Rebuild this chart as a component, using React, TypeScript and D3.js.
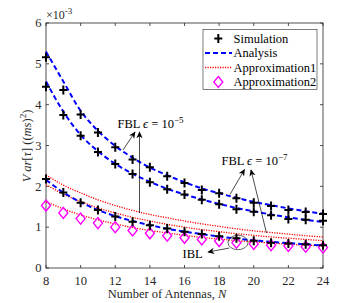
import React from "react";
import * as d3 from "d3";

const antennas = [8, 9, 10, 11, 12, 13, 14, 15, 16, 17, 18, 19, 20, 21, 22, 23, 24];

// values in units of 1e-3
const simFBL7 = [5.16, 4.36, 3.76, 3.32, 2.96, 2.66, 2.47, 2.25, 2.08, 1.91, 1.83, 1.71, 1.6, 1.52, 1.42, 1.37, 1.32];
const simFBL5 = [4.44, 3.75, 3.24, 2.84, 2.55, 2.3, 2.1, 1.93, 1.8, 1.67, 1.56, 1.44, 1.38, 1.29, 1.2, 1.18, 1.16];
const simIBL = [2.18, 1.85, 1.6, 1.42, 1.26, 1.13, 1.05, 0.97, 0.89, 0.83, 0.78, 0.73, 0.67, 0.62, 0.6, 0.58, 0.56];

const anaFBL7 = [5.3, 4.57, 3.85, 3.36, 2.99, 2.7, 2.46, 2.27, 2.1, 1.95, 1.83, 1.72, 1.62, 1.54, 1.46, 1.39, 1.33];
const anaFBL5 = [4.57, 3.83, 3.26, 2.86, 2.55, 2.31, 2.11, 1.94, 1.8, 1.68, 1.57, 1.47, 1.39, 1.31, 1.24, 1.18, 1.13];
const anaIBL = [2.16, 1.85, 1.61, 1.42, 1.27, 1.15, 1.05, 0.96, 0.89, 0.83, 0.77, 0.72, 0.68, 0.64, 0.61, 0.58, 0.55];

const approx1A = [2.28, 2.03, 1.84, 1.67, 1.53, 1.41, 1.31, 1.23, 1.15, 1.08, 1.02, 0.96, 0.91, 0.87, 0.83, 0.79, 0.76];
const approx1B = [2.04, 1.81, 1.63, 1.47, 1.35, 1.24, 1.15, 1.07, 1.0, 0.94, 0.89, 0.84, 0.8, 0.76, 0.73, 0.7, 0.67];
const approx1C = [1.62, 1.45, 1.3, 1.18, 1.08, 0.99, 0.92, 0.86, 0.8, 0.75, 0.71, 0.67, 0.64, 0.61, 0.58, 0.56, 0.54];

const approx2 = [1.53, 1.35, 1.21, 1.1, 1.0, 0.92, 0.85, 0.79, 0.74, 0.7, 0.66, 0.62, 0.59, 0.56, 0.54, 0.52, 0.5];

const xTicks = [8, 10, 12, 14, 16, 18, 20, 22, 24];
const yTicks = [0, 1, 2, 3, 4, 5, 6];
const legendLabels = ["Simulation", "Analysis", "Approximation1", "Approximation2"];

const W = 357;
const H = 303;
const L = 46, R = 323, T = 23, B = 268;
const FONT = "Liberation Serif, Times New Roman, serif";
const AX = "#262626";

export default function App() {
  const x = d3.scaleLinear().domain([8, 24]).range([L, R]);
  const y = d3.scaleLinear().domain([0, 6]).range([B, T]);
  const line = (vals: number[]) =>
    d3
      .line<number>()
      .x((_, i) => x(antennas[i]))
      .y((v) => y(v))
      .curve(d3.curveMonotoneX)(vals) as string;

  const plus = (cx: number, cy: number, k: string) => (
    <path key={k} d={`M${cx - 4},${cy}H${cx + 4}M${cx},${cy - 4.5}V${cy + 4.5}`} stroke="#000" strokeWidth={2} fill="none" />
  );
  const diamond = (cx: number, cy: number, k: string) => (
    <path key={k} d={`M${cx},${cy - 5.5}L${cx + 4.5},${cy}L${cx},${cy + 5.5}L${cx - 4.5},${cy}Z`} stroke="#ff00ff" strokeWidth={1.4} fill="none" />
  );

  const dashed = { stroke: "#0000ff", strokeWidth: 2, strokeDasharray: "5,3", fill: "none" };
  const dotted = { stroke: "#ff0000", strokeWidth: 1.3, strokeDasharray: "1.2,1.3", fill: "none" };

  const legX = 203, legY = 29.5, legW = 114, legH = 60;
  const rowY = [38.5, 53, 67.5, 82];
  const ts = { fontFamily: FONT };

  return (
    <svg width={W} height={H} style={{ position: "fixed", left: 0, top: 0, background: "#fff", fontFamily: FONT }}>
      <defs>
        <marker id="ah" viewBox="0 0 10 10" refX="9" refY="5" markerWidth="7" markerHeight="7" orient="auto-start-reverse" markerUnits="userSpaceOnUse">
          <path d="M0,0.5 L10,5 L0,9.5 L3,5 Z" fill="#000" />
        </marker>
      </defs>
      <rect x={0} y={0} width={W} height={H} fill="#fff" />

      {/* axes box */}
      <rect x={L} y={T} width={R - L} height={B - T} fill="none" stroke={AX} strokeWidth={0.8} />
      {xTicks.map((t) => (
        <g key={"xt" + t}>
          <line x1={x(t)} x2={x(t)} y1={B} y2={B - 3} stroke={AX} strokeWidth={0.8} />
          <line x1={x(t)} x2={x(t)} y1={T} y2={T + 3} stroke={AX} strokeWidth={0.8} />
          <text x={x(t)} y={285} fontSize={12.5} textAnchor="middle" fill={AX} style={ts}>{t}</text>
        </g>
      ))}
      {yTicks.map((t) => (
        <g key={"yt" + t}>
          <line x1={L} x2={L + 3} y1={y(t)} y2={y(t)} stroke={AX} strokeWidth={0.8} />
          <line x1={R} x2={R - 3} y1={y(t)} y2={y(t)} stroke={AX} strokeWidth={0.8} />
          <text x={41.5} y={y(t) + 4.3} fontSize={12.5} textAnchor="end" fill={AX} style={ts}>{t}</text>
        </g>
      ))}
      <text x={46} y={19} fontSize={12} fill={AX} style={ts}>
        ×10<tspan fontSize={9} dy={-5}>-3</tspan>
      </text>

      {/* axis labels */}
      <text x={167} y={297.5} fontSize={12.5} textAnchor="middle" fill={AX} style={ts}>
        Number of Antennas, <tspan fontStyle="italic">N</tspan>
      </text>
      <text transform="translate(31,146) rotate(-90)" fontSize={12.5} textAnchor="middle" fill={AX} style={ts}>
        <tspan fontStyle="italic">V ar</tspan>[<tspan fontStyle="italic">τ</tspan>] ((<tspan fontStyle="italic">ms</tspan>)<tspan fontSize={9} dy={-5}>2</tspan><tspan dy={5}>)</tspan>
      </text>

      {/* approximation 1 (red dotted) */}
      <path d={line(approx1A)} {...dotted} />
      <path d={line(approx1B)} {...dotted} />
      <path d={line(approx1C)} {...dotted} />

      {/* analysis (blue dashed) */}
      <path d={line(anaFBL7)} {...dashed} />
      <path d={line(anaFBL5)} {...dashed} />
      <path d={line(anaIBL)} {...dashed} />

      {/* approximation 2 diamonds */}
      {approx2.map((v, i) => diamond(x(antennas[i]), y(v), "d" + i))}

      {/* simulation pluses */}
      {simFBL7.map((v, i) => plus(x(antennas[i]), y(v), "a" + i))}
      {simFBL5.map((v, i) => plus(x(antennas[i]), y(v), "b" + i))}
      {simIBL.map((v, i) => plus(x(antennas[i]), y(v), "c" + i))}

      {/* annotations */}
      <text x={117.5} y={128} fontSize={12.5} fill="#000" style={ts}>
        FBL <tspan fontStyle="italic">ϵ</tspan> = 10<tspan fontSize={9} dy={-5}>−5</tspan>
      </text>
      <line x1={123} x2={135} y1={150} y2={132} stroke="#000" strokeWidth={0.7} markerEnd="url(#ah)" />
      <line x1={139.5} x2={139.5} y1={213} y2={132} stroke="#000" strokeWidth={0.7} markerEnd="url(#ah)" />

      <text x={221.5} y={164.5} fontSize={12.5} fill="#000" style={ts}>
        FBL <tspan fontStyle="italic">ϵ</tspan> = 10<tspan fontSize={9} dy={-5}>−7</tspan>
      </text>
      <line x1={230} x2={244.5} y1={194.5} y2={169.5} stroke="#000" strokeWidth={0.7} markerEnd="url(#ah)" />
      <line x1={266.5} x2={251} y1={233} y2={170} stroke="#000" strokeWidth={0.7} markerEnd="url(#ah)" />

      <ellipse cx={238} cy={242.5} rx={10} ry={7.2} fill="none" stroke="#000" strokeWidth={0.6} />
      <line x1={229.5} x2={208} y1={248} y2={252} stroke="#000" strokeWidth={0.7} markerEnd="url(#ah)" />
      <text x={182.5} y={257.5} fontSize={12.5} fill="#000" style={ts}>IBL</text>

      {/* legend */}
      <rect x={legX} y={legY} width={legW} height={legH} fill="#fff" stroke={AX} strokeWidth={0.6} />
      {plus(218.3, rowY[0], "lp")}
      <line x1={205} x2={232} y1={rowY[1]} y2={rowY[1]} {...dashed} />
      <line x1={205} x2={232} y1={rowY[2]} y2={rowY[2]} {...dotted} />
      {diamond(218.3, rowY[3], "ld")}
      {legendLabels.map((s, i) => (
        <text key={s} x={233.5} y={rowY[i] + 4.3} fontSize={12.5} fill="#000" style={ts}>{s}</text>
      ))}
    </svg>
  );
}
